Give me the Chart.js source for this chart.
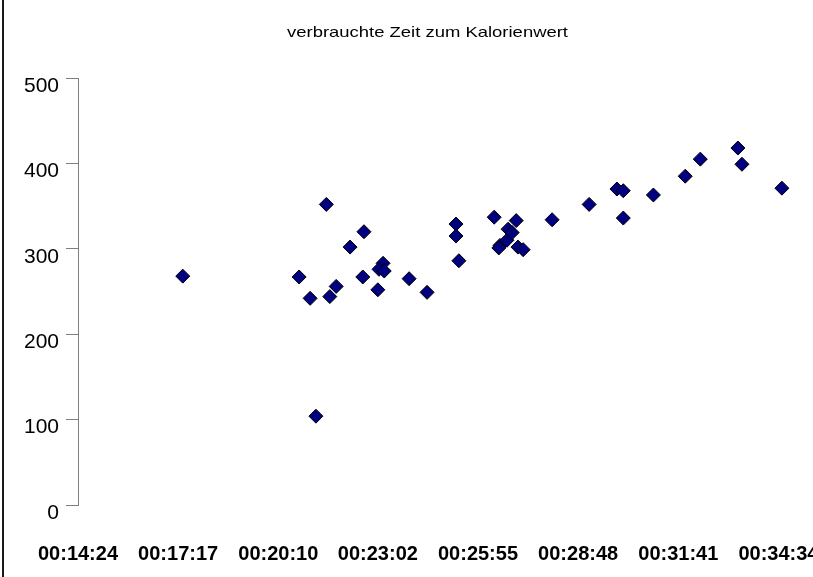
<!DOCTYPE html>
<html>
<head>
<meta charset="utf-8">
<script src="https://cdn.jsdelivr.net/npm/chart.js@4"></script>
<style>
  html, body { margin: 0; padding: 0; background: #fff; overflow: hidden; }
  #wrap { position: absolute; left: 0; top: 0; width: 930px; height: 577px; }
</style>
</head>
<body>
<div id="wrap"><canvas id="chart" width="930" height="577"></canvas></div>
<script>
const titleText = "verbrauchte Zeit zum Kalorienwert";

// time used (hh:mm:ss) and calories
const times = [
  "00:17:25", "00:20:46", "00:21:05", "00:21:15", "00:21:33", "00:21:39", "00:21:50",
  "00:22:14", "00:22:38", "00:22:36", "00:23:02", "00:23:11", "00:23:04", "00:23:13",
  "00:23:56", "00:24:27", "00:25:17", "00:25:17", "00:25:22", "00:26:23", "00:26:33",
  "00:26:31", "00:26:45", "00:26:47", "00:26:54", "00:27:01", "00:27:04", "00:27:13",
  "00:28:03", "00:29:07", "00:29:55", "00:30:06", "00:30:06", "00:30:58", "00:31:53",
  "00:32:19", "00:33:24", "00:33:31", "00:34:40"
];
const kcal = [
  268, 267, 242, 104, 352, 244, 256,
  302, 320, 267, 252, 283, 276, 274,
  265, 249, 329, 315, 286, 337, 304,
  301, 310, 323, 319, 333, 302, 299,
  334, 352, 370, 368, 336, 363, 385,
  405, 418, 399, 371
];

const xTicks = ["00:14:24", "00:17:17", "00:20:10", "00:23:02", "00:25:55", "00:28:48", "00:31:41", "00:34:34"];
const xMax = "00:37:26";
const yTicks = [0, 100, 200, 300, 400, 500];

function toSec(s) {
  const p = s.split(":").map(Number);
  return p[0] * 3600 + p[1] * 60 + p[2];
}
function fmt(sec) {
  sec = Math.round(sec);
  const h = Math.floor(sec / 3600), m = Math.floor(sec / 60) % 60, s = sec % 60;
  return [h, m, s].map(v => String(v).padStart(2, "0")).join(":");
}

const points = times.map((t, i) => ({ x: toSec(t), y: kcal[i] }));

/* frame line on the left + stretched title, like the Excel original */
const decor = {
  id: "decor",
  afterDraw(chart) {
    const c = chart.ctx;
    c.save();
    c.fillStyle = "#1a1a1a";
    c.fillRect(2, 0, 2, chart.height);
    c.font = "14.5px 'Liberation Sans', Arial, sans-serif";
    c.fillStyle = "#000";
    c.textBaseline = "middle";
    c.textAlign = "center";
    const w = c.measureText(titleText).width;
    c.translate(427.5, 33);
    c.scale(281 / w, 1);
    c.fillText(titleText, 0, 0);
    c.restore();
  }
};

new Chart(document.getElementById("chart"), {
  type: "scatter",
  data: {
    datasets: [{
      data: points,
      pointStyle: "rectRot",
      pointRadius: 7,
      pointHoverRadius: 7,
      backgroundColor: "#000080",
      borderColor: "#000000",
      borderWidth: 1
    }]
  },
  options: {
    responsive: false,
    animation: false,
    devicePixelRatio: 1,
    layout: { padding: { top: 78, left: 0, right: 52, bottom: 0 } },
    plugins: {
      legend: { display: false },
      title: { display: false },
      tooltip: { enabled: false }
    },
    scales: {
      x: {
        type: "linear",
        min: toSec(xTicks[0]),
        max: toSec(xMax),
        afterBuildTicks: (axis) => { axis.ticks = xTicks.map(s => ({ value: toSec(s) })); },
        afterFit: (axis) => { axis.height = 72; },
        grid: { display: false, drawTicks: false },
        border: { display: false },
        ticks: {
          autoSkip: false,
          maxRotation: 0,
          padding: 37,
          color: "#000",
          font: { family: "'Liberation Sans', Arial, sans-serif", size: 20, weight: "bold" },
          callback: (v) => fmt(v)
        }
      },
      y: {
        min: yTicks[0],
        max: yTicks[yTicks.length - 1],
        afterBuildTicks: (axis) => { axis.ticks = yTicks.map(v => ({ value: v })); },
        afterFit: (axis) => { axis.width = 78; },
        grid: { drawOnChartArea: false, drawTicks: true, tickLength: 12, color: "#7f7f7f" },
        border: { display: true, color: "#7f7f7f" },
        ticks: {
          padding: 7,
          labelOffset: 8,
          color: "#000",
          font: { family: "'Liberation Sans', Arial, sans-serif", size: 21 }
        }
      }
    }
  },
  plugins: [decor]
});
</script>
</body>
</html>
